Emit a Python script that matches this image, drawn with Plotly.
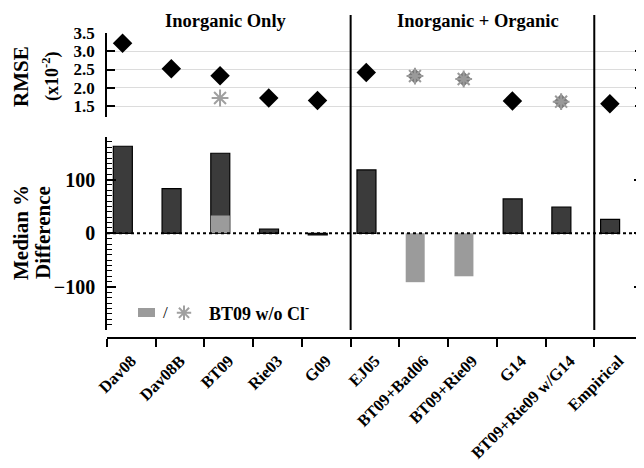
import plotly.graph_objects as go

categories = ["Dav08", "Dav08B", "BT09", "Rie03", "G09", "EJ05", "BT09+Bad06",
              "BT09+Rie09", "G14", "BT09+Rie09 w/G14", "Empirical"]
rmse = [3.22, 2.52, 2.33, 1.72, 1.65, 2.42, None, None, 1.64, None, 1.56]
rmse_combined = [None, None, None, None, None, None, 2.32, 2.24, None, 1.62, None]
rmse_no_cl = [None, None, 1.72, None, None, None, None, None, None, None, None]
median_diff = [162, 83, 149, 8, -3, 118, None, None, 64, 49, 26]
median_diff_no_cl = [None, None, 33, None, None, None, -91, -80, None, None, None]
rmse_ticks = [1.5, 2.0, 2.5, 3.0, 3.5]
diff_ticks = [-100, 0, 100]
section_titles = ["Inorganic Only", "Inorganic + Organic"]
group_breaks = [4.5, 9.5]

FONT = "Liberation Serif"
OFF = -0.18
n = len(categories)
pos = list(range(n))
xnum = [i + OFF for i in pos]

# page has an 8px body margin: figure is 636x460 placed at (8,8)
W, H = 536.0, 305.0
def py(page_y):
    return (338 - page_y) / H
def pxp(page_x):
    return (page_x - 107) / W
def xdata(page_x):
    return (page_x - 107) / (W / n) - 0.5

fig = go.Figure()

fig.add_trace(go.Scatter(x=xnum, y=rmse, mode="markers", xaxis="x", yaxis="y",
                         marker=dict(symbol="diamond", size=15, color="black"),
                         showlegend=False))
fig.add_trace(go.Scatter(x=xnum, y=rmse_combined, mode="markers", xaxis="x", yaxis="y",
                         marker=dict(symbol="diamond", size=12, color="#7a7a7a"),
                         showlegend=False))
fig.add_trace(go.Scatter(x=xnum, y=rmse_combined, mode="markers", xaxis="x", yaxis="y",
                         marker=dict(symbol="asterisk-open", size=14, color="#9a9a9a",
                                     line=dict(color="#9a9a9a", width=2)),
                         showlegend=False))
fig.add_trace(go.Scatter(x=xnum, y=rmse_no_cl, mode="markers", xaxis="x", yaxis="y",
                         marker=dict(symbol="asterisk-open", size=14, color="#a0a0a0",
                                     line=dict(color="#a0a0a0", width=2)),
                         showlegend=False))

fig.add_trace(go.Bar(x=pos, y=median_diff, xaxis="x2", yaxis="y2",
                     offset=-0.37, width=0.39,
                     marker=dict(color="#3b3b3b", line=dict(color="black", width=1.2)),
                     showlegend=False))
fig.add_trace(go.Bar(x=pos, y=median_diff_no_cl, xaxis="x2", yaxis="y2",
                     offset=-0.37, width=0.39,
                     marker=dict(color="#9b9b9b", line=dict(width=0)),
                     showlegend=False))

minor_vals = [v for v in range(-180, 181, 10) if v not in diff_ticks]
boundaries = [i - 0.5 for i in range(n + 1)]

fig.update_layout(
    width=636, height=460,
    margin=dict(l=99, r=1, t=25, b=130, autoexpand=False),
    paper_bgcolor="white", plot_bgcolor="white",
    barmode="overlay",
    font=dict(family=FONT, color="black"),
    xaxis=dict(domain=[0, 1], anchor="y", range=[-0.5, n - 0.5], showline=False,
               showticklabels=False, ticks="", showgrid=False, zeroline=False,
               automargin=False),
    yaxis=dict(domain=[py(117), 1], anchor="x", range=[1.2, 3.5],
               tickvals=rmse_ticks, ticktext=[f"{v:.1f}" for v in rmse_ticks],
               ticks="inside", ticklen=8, tickwidth=1.5, tickcolor="black",
               showline=True, linecolor="black", linewidth=1.5, mirror="ticks",
               showgrid=True, gridcolor="#dcdcdc", gridwidth=1, zeroline=False,
               tickfont=dict(family=FONT, size=17, weight="bold"), ticklabelstandoff=7,
               automargin=False),
    xaxis2=dict(domain=[0, 1], anchor="free", position=0,
                range=[-0.5, n - 0.5], tickvals=pos, ticktext=categories,
                ticks="outside", ticklen=6, tickwidth=0, tickcolor="rgba(0,0,0,0)",
                minor=dict(tickvals=boundaries, ticks="outside", ticklen=8,
                           tickwidth=1.5, tickcolor="black"),
                showline=True, linecolor="black", linewidth=1.5,
                tickangle=-45, tickfont=dict(family=FONT, size=16.5, weight="bold"),
                showgrid=False, zeroline=False, automargin=False),
    yaxis2=dict(domain=[py(330), py(136.6)], anchor="x2", range=[-180, 180],
                tickvals=diff_ticks, ticks="inside", ticklen=9, tickwidth=1.5,
                tickcolor="black", showline=True, linecolor="black", linewidth=1.5,
                mirror="ticks", showgrid=False, zeroline=False,
                minor=dict(tickvals=minor_vals, ticks="inside", ticklen=5,
                           tickwidth=1, tickcolor="black"),
                tickfont=dict(family=FONT, size=20, weight="bold"), ticklabelstandoff=6,
                automargin=False),
)

fig.add_shape(type="line", xref="x2 domain", yref="y2", x0=0, x1=1, y0=0, y1=0,
              line=dict(color="black", width=2, dash="dot"))
for xb in group_breaks:
    fig.add_shape(type="line", xref="x2", yref="paper", x0=xb, x1=xb,
                  y0=py(330), y1=py(15), line=dict(color="black", width=2))

fig.add_annotation(x=pxp(226), y=py(21), xref="paper", yref="paper",
                   xanchor="center", yanchor="middle",
                   text=f"<b>{section_titles[0]}</b>", showarrow=False,
                   font=dict(family=FONT, size=18.5))
fig.add_annotation(x=pxp(478), y=py(21), xref="paper", yref="paper",
                   xanchor="center", yanchor="middle",
                   text=f"<b>{section_titles[1]}</b>", showarrow=False,
                   font=dict(family=FONT, size=18.5))

def vtitle(x, y, text, size):
    fig.add_annotation(x=pxp(x), y=py(y), xref="paper", yref="paper",
                       xanchor="center", yanchor="middle", text=text, textangle=-90,
                       showarrow=False, font=dict(family=FONT, size=size))

vtitle(21, 77, "<b>RMSE</b>", 21)
vtitle(51, 76, "<b>(x10<sup>-2</sup>)</b>", 18)
vtitle(21, 233, "<b>Median %</b>", 21)
vtitle(43, 233, "<b>Difference</b>", 21)

# legend
fig.add_shape(type="rect", xref="paper", yref="paper",
              x0=pxp(138), x1=pxp(155), y0=py(317), y1=py(308),
              fillcolor="#9b9b9b", line=dict(width=0))
fig.add_annotation(x=pxp(165), y=py(312), xref="paper", yref="paper",
                   xanchor="center", yanchor="middle",
                   text="/", showarrow=False, font=dict(family=FONT, size=17, color="black"))
fig.add_trace(go.Scatter(x=[xdata(184)], y=[-148], xaxis="x2", yaxis="y2",
                         mode="markers", showlegend=False,
                         marker=dict(symbol="asterisk-open", size=12, color="#a0a0a0",
                                     line=dict(color="#a0a0a0", width=2))))
fig.add_annotation(x=pxp(207), y=py(312), xref="paper", yref="paper",
                   xanchor="left", yanchor="middle",
                   text="<b>BT09 w/o Cl<sup>-</sup></b>", showarrow=False,
                   font=dict(family=FONT, size=18))

fig.write_html("out.html")
